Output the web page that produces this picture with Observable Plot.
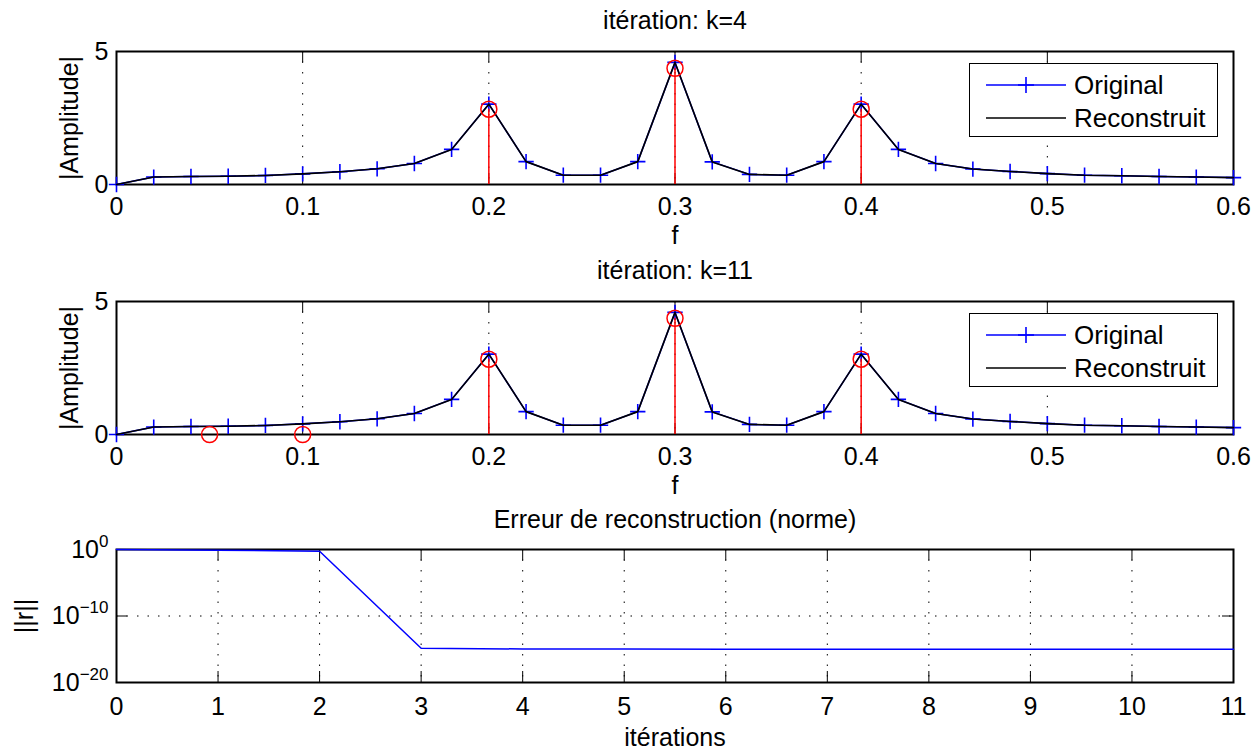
<!DOCTYPE html>
<html>
<head>
<meta charset="utf-8">
<script src="https://cdn.jsdelivr.net/npm/d3@7"></script>
<script src="https://cdn.jsdelivr.net/npm/@observablehq/plot@0.6"></script>
<style>
  body { margin: 0; background: #fff; }
  #chart { position: relative; width: 1259px; height: 754px; font-family: "Liberation Sans", Arial, Helvetica, sans-serif; }
  .panel { position: absolute; left: 0; }
  .legend { position: absolute; left: 969px; width: 247px; height: 72px; border: 1.5px solid #000; background: #fff; font-size: 26px; color: #000; }
  .legend .row { position: absolute; left: 0; height: 30px; width: 100%; }
  .legend .row svg { position: absolute; left: 16px; top: 5px; }
  .legend .row span { position: absolute; left: 104px; top: 0; line-height: 30px; }
</style>
</head>
<body>
<div id="chart"></div>
<script>
// ---------- data ----------
const freqs = [0, 0.02, 0.04, 0.06, 0.08, 0.10, 0.12, 0.14, 0.16, 0.18, 0.20, 0.22, 0.24, 0.26, 0.28, 0.30,
               0.32, 0.34, 0.36, 0.38, 0.40, 0.42, 0.44, 0.46, 0.48, 0.50, 0.52, 0.54, 0.56, 0.58, 0.60];
const original = [0, 0.28, 0.30, 0.31, 0.34, 0.40, 0.48, 0.59, 0.79, 1.32, 3.02, 0.86, 0.35, 0.35, 0.86, 4.59,
                  0.85, 0.38, 0.35, 0.86, 3.02, 1.32, 0.79, 0.58, 0.49, 0.41, 0.35, 0.33, 0.30, 0.28, 0.26];
const reconstruit = [0, 0.28, 0.30, 0.31, 0.34, 0.40, 0.48, 0.59, 0.79, 1.32, 3.02, 0.86, 0.35, 0.35, 0.86, 4.59,
                     0.85, 0.38, 0.35, 0.86, 3.02, 1.32, 0.79, 0.58, 0.49, 0.41, 0.35, 0.33, 0.30, 0.28, 0.26];
const stemF_k4 = [0.2, 0.3, 0.4];
const stemV_k4 = [2.83, 4.37, 2.83];
const stemF_k11 = [0.05, 0.1, 0.2, 0.3, 0.4];
const stemV_k11 = [0, 0, 2.83, 4.37, 2.83];
const iterations = [0, 1, 2, 3, 4, 5, 6, 7, 8, 9, 10, 11];
const erreur = [1.0, 0.8, 0.56, 1.4e-15, 1.1e-15, 1.05e-15, 1.0e-15, 1.0e-15, 1.0e-15, 1.0e-15, 1.0e-15, 1.0e-15];
const fTicks = [0, 0.1, 0.2, 0.3, 0.4, 0.5, 0.6];
const ampTicks = [0, 5];
const iterTicks = [0, 1, 2, 3, 4, 5, 6, 7, 8, 9, 10, 11];
const errTicks = [1e-20, 1e-10, 1];
const titles = ["itération: k=4", "itération: k=11", "Erreur de reconstruction (norme)"];
const legendLabels = ["Original", "Reconstruit"];

// ---------- layout ----------
const W = 1259, ML = 116, MR = 26, PH = 133, PW = W - ML - MR, TICK = 11;
const FONT = "'Liberation Sans', Arial, Helvetica, sans-serif";
const BLUE = "#0000ff", RED = "#ff0000";
const chart = document.getElementById("chart");

function baseStyle() {
  return { fontFamily: FONT, fontSize: "25px", background: "transparent", overflow: "visible", color: "black" };
}

function ampPanel(title, stemF, stemV, top) {
  const orig = freqs.map((f, i) => ({ f, v: original[i] }));
  const rec = freqs.map((f, i) => ({ f, v: reconstruit[i] }));
  const stems = stemF.map((f, i) => ({ f, v: stemV[i] }));
  const svg = Plot.plot({
    width: W, height: 250, marginTop: 51, marginBottom: 66, marginLeft: ML, marginRight: MR,
    style: baseStyle(),
    x: { domain: [0, 0.6], label: null },
    y: { domain: [0, 5], label: null },
    marks: [
      Plot.gridX(fTicks.slice(1, -1), { stroke: "black", strokeOpacity: 1, strokeWidth: 1, strokeDasharray: "1.5,9" }),
      Plot.tickX(fTicks, { x: d => d, insetTop: PH - TICK, stroke: "black", strokeWidth: 1 }),
      Plot.tickX(fTicks, { x: d => d, insetBottom: PH - TICK, stroke: "black", strokeWidth: 1 }),
      Plot.frame({ stroke: "black", strokeWidth: 2 }),
      Plot.axisX(fTicks, { tickSize: 0, tickPadding: 13, tickFormat: d => String(d), label: null }),
      Plot.axisY(ampTicks, { tickSize: 0, tickPadding: 8, label: null }),
      Plot.text(["f"], { frameAnchor: "bottom", lineAnchor: "bottom", dy: 59 }),
      Plot.text(["|Amplitude|"], { frameAnchor: "left", textAnchor: "middle", rotate: -90, dx: -47 }),
      Plot.text([title], { frameAnchor: "top", lineAnchor: "bottom", dy: -23 }),
      Plot.line(orig, { x: "f", y: "v", stroke: BLUE, strokeWidth: 1.5 }),
      Plot.dot(orig, { x: "f", y: "v", symbol: "plus", r: 5, stroke: BLUE, strokeWidth: 1.6 }),
      Plot.line(rec, { x: "f", y: "v", stroke: "black", strokeWidth: 1.6 }),
      Plot.ruleX(stems, { x: "f", y1: 0, y2: "v", stroke: RED, strokeWidth: 1.5 }),
      Plot.dot(stems, { x: "f", y: "v", r: 8, stroke: RED, fill: "none", strokeWidth: 1.5 })
    ]
  });
  svg.classList.add("panel");
  svg.style.top = top + "px";
  chart.appendChild(svg);

  // legend
  const lg = document.createElement("div");
  lg.className = "legend";
  lg.style.top = (top + 63) + "px";
  const rows = [
    { label: legendLabels[0], color: BLUE, plus: true, y: 6 },
    { label: legendLabels[1], color: "black", plus: false, y: 39 }
  ];
  for (const r of rows) {
    const row = document.createElement("div");
    row.className = "row";
    row.style.top = r.y + "px";
    row.innerHTML =
      `<svg width="80" height="20" viewBox="0 0 80 20">` +
      `<line x1="0" y1="10" x2="80" y2="10" stroke="${r.color}" stroke-width="1.6"/>` +
      (r.plus ? `<line x1="32" y1="10" x2="48" y2="10" stroke="${r.color}" stroke-width="1.6"/><line x1="40" y1="2" x2="40" y2="18" stroke="${r.color}" stroke-width="1.6"/>` : "") +
      `</svg><span>${r.label}</span>`;
    lg.appendChild(row);
  }
  chart.appendChild(lg);
}

ampPanel(titles[0], stemF_k4, stemV_k4, 0);
ampPanel(titles[1], stemF_k11, stemV_k11, 250);

// ---------- error panel ----------
(function () {
  const data = iterations.map((k, i) => ({ k, e: erreur[i] }));
  const svg = Plot.plot({
    width: W, height: 254, marginTop: 49, marginBottom: 72, marginLeft: ML, marginRight: MR,
    style: baseStyle(),
    x: { domain: [0, 11], label: null },
    y: { type: "log", domain: [1e-20, 1], label: null },
    marks: [
      Plot.gridX(iterTicks.slice(1, -1), { stroke: "black", strokeOpacity: 1, strokeWidth: 1, strokeDasharray: "1.5,9" }),
      Plot.gridY([1e-10], { stroke: "black", strokeOpacity: 1, strokeWidth: 1, strokeDasharray: "1.5,9" }),
      Plot.tickX(iterTicks, { x: d => d, insetTop: PH - TICK, stroke: "black", strokeWidth: 1 }),
      Plot.tickX(iterTicks, { x: d => d, insetBottom: PH - TICK, stroke: "black", strokeWidth: 1 }),
      Plot.tickY(errTicks, { y: d => d, insetRight: PW - TICK, stroke: "black", strokeWidth: 1 }),
      Plot.tickY(errTicks, { y: d => d, insetLeft: PW - TICK, stroke: "black", strokeWidth: 1 }),
      Plot.frame({ stroke: "black", strokeWidth: 2 }),
      Plot.axisX(iterTicks, { tickSize: 0, tickPadding: 15, tickFormat: d => String(d), label: null }),
      Plot.axisY(errTicks, {
        tickSize: 0, tickPadding: 8, label: null,
        tickFormat: d => "10^" + String(Math.round(Math.log10(d))).replace("-", "\u2212")
      }),
      Plot.text(["itérations"], { frameAnchor: "bottom", lineAnchor: "bottom", dy: 63 }),
      Plot.text(["||r||"], { frameAnchor: "left", textAnchor: "middle", rotate: -90, dx: -92 }),
      Plot.text([titles[2]], { frameAnchor: "top", lineAnchor: "bottom", dy: -22 }),
      Plot.line(data, { x: "k", y: "e", stroke: BLUE, strokeWidth: 1.5 })
    ]
  });
  svg.classList.add("panel");
  svg.style.top = "500px";
  chart.appendChild(svg);
  // superscript exponents
  svg.querySelectorAll('g[aria-label="y-axis tick label"] text').forEach(t => {
    const s = t.textContent;
    if (!s.includes("^")) return;
    const [base, exp] = s.split("^");
    t.textContent = "";
    const ns = "http://www.w3.org/2000/svg";
    const b = document.createElementNS(ns, "tspan");
    b.textContent = base;
    const e = document.createElementNS(ns, "tspan");
    e.textContent = exp;
    e.setAttribute("dy", "-0.62em");
    e.setAttribute("font-size", "17px");
    t.appendChild(b);
    t.appendChild(e);
  });
})();
</script>
</body>
</html>
